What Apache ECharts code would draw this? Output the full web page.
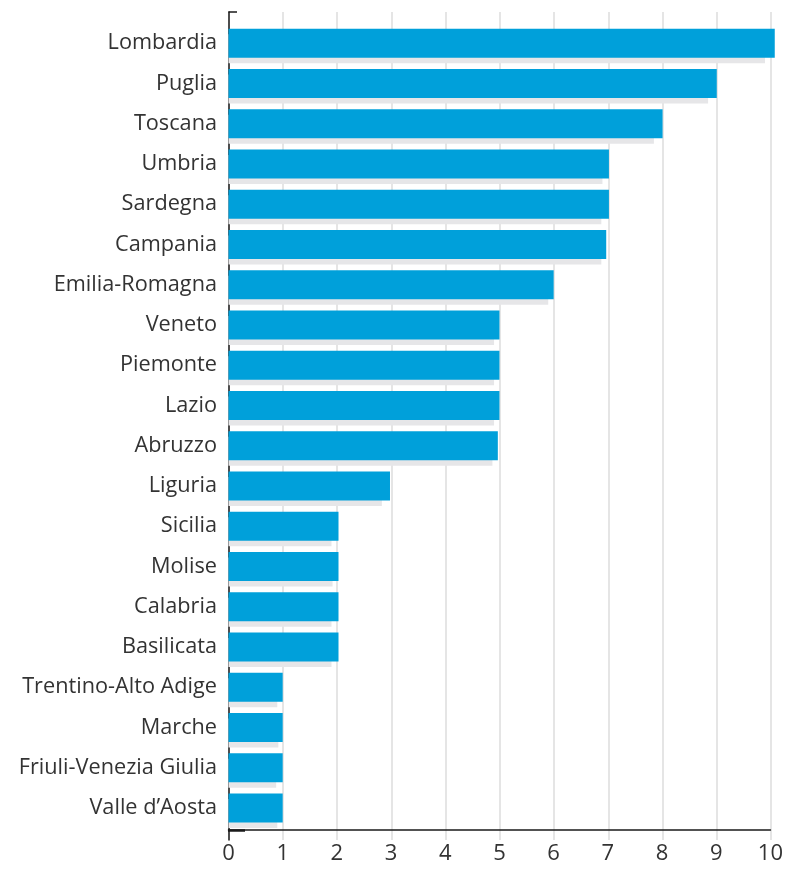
<!DOCTYPE html>
<html>
<head>
<meta charset="utf-8">
<title>Regioni</title>
<script src="https://cdn.jsdelivr.net/npm/echarts@6/dist/echarts.min.js"></script>
<style>
  html, body { margin: 0; padding: 0; background: #ffffff; }
  #chart { width: 786px; height: 870px; }
</style>
</head>
<body>
<div id="chart"></div>
<script>
// Regions, top to bottom
const regions = [
  'Lombardia', 'Puglia', 'Toscana', 'Umbria', 'Sardegna', 'Campania',
  'Emilia-Romagna', 'Veneto', 'Piemonte', 'Lazio', 'Abruzzo', 'Liguria',
  'Sicilia', 'Molise', 'Calabria', 'Basilicata', 'Trentino-Alto Adige',
  'Marche', 'Friuli-Venezia Giulia', 'Valle d\u2019Aosta'
];
// Main (blue) values
const mainValues = [
  10.08, 9.01, 8.01, 7.02, 7.02, 6.97,
  6.0, 5.0, 5.0, 5.0, 4.97, 2.98,
  2.03, 2.03, 2.03, 2.03, 1.0,
  1.0, 1.0, 1.0
];
// Background (grey) values
const backValues = [
  9.9, 8.85, 7.85, 6.9, 6.88, 6.88,
  5.9, 4.9, 4.9, 4.9, 4.87, 2.83,
  1.9, 1.92, 1.9, 1.9, 0.9,
  0.92, 0.88, 0.9
];
// Value axis ticks
const xTicks = [0, 1, 2, 3, 4, 5, 6, 7, 8, 9, 10];

const FONT = '"Open Sans"';
const TEXT = '#333333';
const LINE = '#1a1a1a';

const chart = echarts.init(document.getElementById('chart'), null, { renderer: 'canvas' });

const option = {
  backgroundColor: '#ffffff',
  animation: false,
  grid: [
    { left: 228.5, right: 15, top: 23, bottom: 42 },
    { left: 228.5, right: 15, top: 12, bottom: 30 }
  ],
  xAxis: [
    {
      gridIndex: 0, type: 'value',
      min: xTicks[0], max: xTicks[xTicks.length - 1], interval: 1,
      offset: 2,
      axisLine: { show: true, lineStyle: { color: LINE, width: 1.5 } },
      axisTick: { show: false },
      splitLine: { show: false },
      axisLabel: { fontFamily: FONT, fontSize: 22, color: TEXT, margin: 13 }
    },
    {
      gridIndex: 1, type: 'value',
      min: xTicks[0], max: xTicks[xTicks.length - 1], interval: 1,
      axisLine: { show: false }, axisTick: { show: false }, axisLabel: { show: false },
      splitLine: { show: true, lineStyle: { color: '#dddddd', width: 1.5 } }
    }
  ],
  yAxis: [
    {
      gridIndex: 0, type: 'category', data: regions, inverse: true,
      axisLine: { show: false }, axisTick: { show: false },
      axisLabel: { fontFamily: FONT, fontSize: 21.7, color: TEXT, margin: 11.5 }
    },
    {
      gridIndex: 1, type: 'category', data: regions, inverse: true,
      axisLine: { show: true, lineStyle: { color: LINE, width: 1.5 } },
      axisTick: { show: false }, axisLabel: { show: false }, splitLine: { show: false }
    }
  ],
  series: [
    {
      // empty spacer keeps the blue bar centred on its row
      type: 'bar', xAxisIndex: 0, yAxisIndex: 0,
      data: regions.map(() => '-'), barWidth: 29, silent: true
    },
    {
      name: 'main', type: 'bar', xAxisIndex: 0, yAxisIndex: 0,
      data: mainValues, barWidth: 29, clip: false, z: 3,
      itemStyle: { color: '#00a0da' }
    },
    {
      name: 'back', type: 'bar', xAxisIndex: 0, yAxisIndex: 0,
      data: backValues, barWidth: 29, barGap: '-81%', clip: false, z: 2,
      itemStyle: { color: '#e6e6e8' }
    }
  ],
  graphic: [
    {
      type: 'line', silent: true, z: 10,
      shape: { x1: 228.5, y1: 12, x2: 237, y2: 12 },
      style: { stroke: LINE, lineWidth: 1.5 }
    },
    {
      type: 'line', silent: true, z: 10,
      shape: { x1: 228, y1: 830.5, x2: 245, y2: 830.5 },
      style: { stroke: LINE, lineWidth: 2.5 }
    }
  ]
};

chart.setOption(option);
</script>
</body>
</html>
